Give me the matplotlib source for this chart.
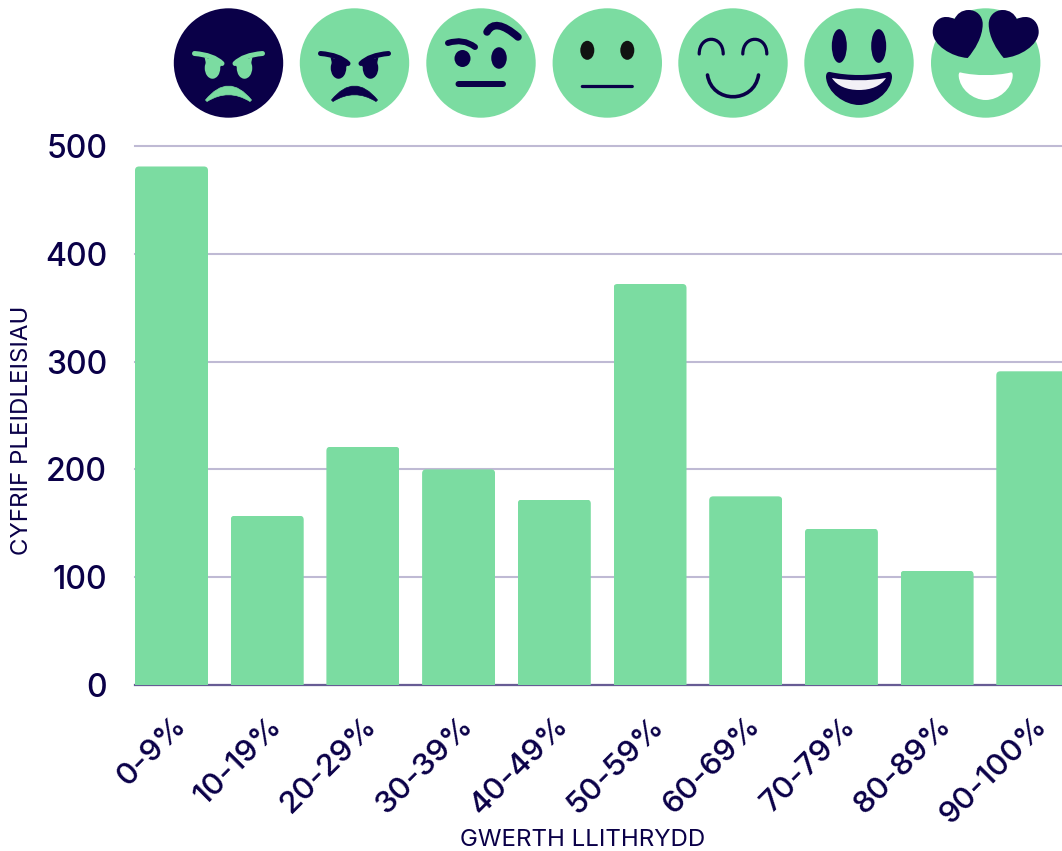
import matplotlib
matplotlib.use("Agg")
import matplotlib.pyplot as plt
from matplotlib.patches import Circle, Ellipse, FancyBboxPatch, PathPatch
from matplotlib.path import Path
from matplotlib.transforms import IdentityTransform

categories = ["0-9%", "10-19%", "20-29%", "30-39%", "40-49%", "50-59%", "60-69%", "70-79%", "80-89%", "90-100%"]
votes = [481, 157, 221, 200, 172, 372, 175, 145, 106, 291]
y_ticks = [0, 100, 200, 300, 400, 500]
x_title = "GWERTH LLITHRYDD"
y_title = "CYFRIF PLEIDLEISIAU"

GREEN = "#7bdca1"
NAVY = "#0a0048"
GRID = "#bfbad4"
W, H = 1062, 851
plt.rcParams["font.family"] = ["Inter", "DejaVu Sans"]

fig = plt.figure(figsize=(W / 100, H / 100), dpi=100, facecolor="white")
ax = fig.add_axes([135 / W, 1 - 685 / H, (W - 135) / W, 539 / H])
pitch = 95.7
ax.set_xlim(-(171.5 - 135) / pitch, -(171.5 - 135) / pitch + (W - 135) / pitch)
ax.set_ylim(0, 500)
ax.set_axisbelow(True)
ax.grid(axis="y", color=GRID, lw=1.5, clip_on=False)
ax.grid(axis="x", visible=False)
for s in ("top", "right", "left"):
    ax.spines[s].set_visible(False)
ax.spines["bottom"].set_color("#675c94")
ax.spines["bottom"].set_linewidth(1.6)
ax.spines["bottom"].set_zorder(1.5)

bars = ax.bar(range(len(votes)), votes, width=73 / pitch, color=GREEN, linewidth=0, zorder=2)
fig.canvas.draw()
for b in bars:
    x0, y0 = ax.transData.transform((b.get_x(), 0))
    x1, y1 = ax.transData.transform((b.get_x() + b.get_width(), b.get_height()))
    r = 4
    clip = FancyBboxPatch((x0 + r, y0 - 20), x1 - x0 - 2 * r, y1 - y0 + 20 - r,
                          boxstyle=f"round,pad={r},rounding_size={r}", transform=IdentityTransform())
    b.set_clip_path(clip)

ax.set_yticks(y_ticks)
ax.set_yticklabels([str(v) for v in y_ticks], fontsize=23, color=NAVY, fontweight="medium")
ax.tick_params(axis="y", length=0, pad=20)
ax.set_xticks(range(len(votes)))
ax.set_xticklabels(categories, fontsize=22.5, color=NAVY, rotation=45, ha="right", rotation_mode="anchor", fontweight="medium")
ax.tick_params(axis="x", length=0, pad=19)

fig.text(582.5 / W, 1 - 840.5 / H, x_title, fontsize=17.3, color=NAVY, ha="center", va="center")
fig.text(22 / W, 1 - 430 / H, y_title, fontsize=17.3, color=NAVY, ha="center", va="center", rotation=90)

# Emoji strip, in pixel coordinates
ov = fig.add_axes([0, 0, 1, 1], facecolor="none")
ov.set_xlim(0, W)
ov.set_ylim(H, 0)
ov.axis("off")
PT = 0.72
CY = 63


def disc(cx, color=GREEN):
    ov.add_patch(Circle((cx, CY), 54.7, fc=color, ec="none"))


def oval(cx, dx, dy, w, h, color=NAVY):
    ov.add_patch(Ellipse((cx + dx, CY + dy), w, h, fc=color, ec="none"))


def curve(cx, pts, lw, color=NAVY):
    pts = [(cx + x, CY + y) for x, y in pts]
    codes = [Path.MOVETO] + [Path.CURVE3] * (len(pts) - 1)
    ov.add_patch(PathPatch(Path(pts, codes), fc="none", ec=color, lw=lw * PT, capstyle="round"))


def cubic(cx, pts, lw, color=NAVY):
    pts = [(cx + x, CY + y) for x, y in pts]
    codes = [Path.MOVETO] + [Path.CURVE4] * (len(pts) - 1)
    ov.add_patch(PathPatch(Path(pts, codes), fc="none", ec=color, lw=lw * PT, capstyle="round"))


def shape(cx, pts, color=NAVY, mirror=False):
    s = -1 if mirror else 1
    v = [(cx + s * x, CY + y) for x, y in pts]
    codes = [Path.MOVETO] + [Path.CURVE4] * (len(v) - 1)
    ov.add_patch(PathPatch(Path(v, codes), fc=color, ec="none"))


def crescent(cx, color):
    v = [(cx - 23, CY + 37), (cx, CY + 9), (cx + 23, CY + 37), (cx + 21.5, CY + 38.5),
         (cx, CY + 25), (cx - 21.5, CY + 38.5), (cx - 23, CY + 37)]
    codes = [Path.MOVETO, Path.CURVE3, Path.CURVE3, Path.LINETO, Path.CURVE3, Path.CURVE3, Path.CLOSEPOLY]
    ov.add_patch(PathPatch(Path(v, codes), fc=color, ec=color, lw=0.5, joinstyle="round"))


def angry(cx, bg, fg):
    disc(cx, bg)
    for s in (-1, 1):
        oval(cx, s * 16, 5, 15.5, 21.5, fg)
        curve(cx, [(s * 34, -9.5), (s * 15, -8), (s * 6.5, 0.5)], 5, fg)
        ov.add_patch(plt.Polygon([(cx + s * 6.5, CY + 1), (cx + s * 24, CY - 6), (cx + s * 22, CY + 3), (cx + s * 9, CY + 5)],
                                 fc=fg, ec="none"))
    crescent(cx, fg)


angry(228.5, NAVY, GREEN)
angry(354.5, GREEN, NAVY)

cx = 481
disc(cx)
curve(cx, [(-33, -20), (-18, -25), (-6, -16)], 6)
curve(cx, [(6, -31), (14, -46), (37, -26)], 7.5)
oval(cx, -18.5, -4.5, 16, 17)
oval(cx, 18, -5, 15.5, 21.5)
curve(cx, [(-22.5, 21), (0, 21), (22, 21)], 6)

cx = 607.3
disc(cx)
oval(cx, -20, -12.7, 14, 19, "#111111")
oval(cx, 20, -12.7, 14, 19, "#111111")
curve(cx, [(-25, 23.5), (0, 23.5), (25, 23.5)], 3.2)

cx = 733
disc(cx)
for s in (-1, 1):
    x = s * 21.8
    cubic(cx, [(x - 12, -9), (x - 12, -28.6), (x + 12, -28.6), (x + 12, -9)], 3.2)
cubic(cx, [(-25.5, 12), (-21, 41), (21, 41), (25.5, 12)], 3.6)

cx = 859
disc(cx)
oval(cx, -19.7, -17, 15, 33.7)
oval(cx, 19.7, -17, 15, 33.7)
shape(cx, [(-29, 9), (-10, 13), (10, 13), (29, 9), (32, 8.5), (33, 11), (33, 14), (32, 30), (14, 42), (0, 42),
           (-14, 42), (-32, 30), (-33, 14), (-33, 11), (-32, 8.5), (-29, 9)])
shape(cx, [(-27, 15), (-10, 18), (10, 18), (27, 15), (22, 23), (12, 27), (0, 27), (-12, 27), (-22, 23), (-27, 15)], "#f2f0f6")

cx = 985.7
disc(cx)
heart = [(-18, -5), (-34, -6), (-53, -18), (-53, -31), (-53, -40), (-47, -46), (-40, -46), (-36, -46), (-33, -45),
         (-31, -44), (-29, -49), (-24, -53), (-17, -53), (-9, -53), (-3, -47), (-3, -39), (-3, -26), (-11, -13), (-18, -5)]
shape(cx, heart)
shape(cx, heart, mirror=True)
shape(cx, [(-25, 9.5), (-10, 13), (10, 13), (25, 9.5), (27, 9), (27, 11), (27, 13), (26, 26), (13, 37), (0, 37),
           (-13, 37), (-26, 26), (-27, 13), (-27, 11), (-27, 9), (-25, 9.5)], "white")

fig.savefig("out.png", dpi=100)
